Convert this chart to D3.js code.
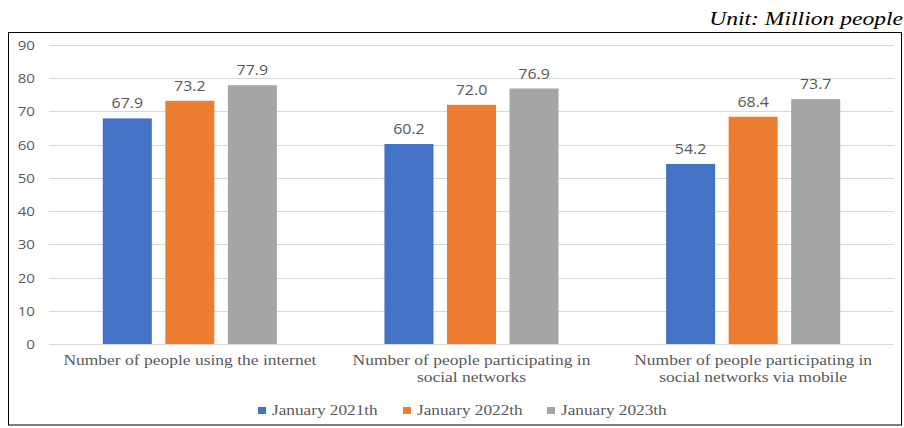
<!DOCTYPE html>
<html>
<head>
<meta charset="utf-8">
<script src="https://cdn.jsdelivr.net/npm/d3@7"></script>
<style>
  html, body { margin: 0; padding: 0; background: #fff; }
  svg { display: block; }
</style>
</head>
<body>
<script>
// Categories (each label split into its display lines)
const categories = [
  ["Number of people using the internet"],
  ["Number of people participating in", "social networks"],
  ["Number of people participating in", "social networks via mobile"]
];
const seriesNames = ["January 2021th", "January 2022th", "January 2023th"];
const seriesColors = ["#4472C4", "#ED7D31", "#A5A5A5"];
const values2021 = [67.9, 60.2, 54.2];
const values2022 = [73.2, 72.0, 68.4];
const values2023 = [77.9, 76.9, 73.7];
const yTicks = [0, 10, 20, 30, 40, 50, 60, 70, 80, 90];
const unitLabel = "Unit: Million people";

const W = 904, H = 428;
const svg = d3.select("body").append("svg").attr("width", W).attr("height", H);

const series = [values2021, values2022, values2023];

const SERIF = "'Liberation Serif', 'Times New Roman', serif";
const SANS = "'Open Sans', 'Noto Sans', sans-serif";

// Text is drawn slightly wide; place at (x, y) and stretch horizontally.
function wideText(sel, sx) {
  return sel.attr("transform", function () {
    const t = d3.select(this);
    return `translate(${t.attr("data-x")},${t.attr("data-y")}) scale(${sx},1)`;
  });
}

// Outer frame
svg.append("rect")
  .attr("x", 8.5).attr("y", 32.5)
  .attr("width", 893).attr("height", 392.5)
  .attr("fill", "none").attr("stroke", "#000").attr("stroke-width", 1);

// Unit note
svg.append("text")
  .attr("data-x", 903).attr("data-y", 25)
  .attr("text-anchor", "end")
  .attr("font-family", SERIF)
  .attr("font-style", "italic")
  .attr("font-size", 19.5)
  .attr("fill", "#000")
  .text(unitLabel)
  .call(wideText, 1.21);

const plot = { left: 49, right: 894, top: 45, bottom: 344 };

const x0 = d3.scaleBand()
  .domain(d3.range(categories.length))
  .range([plot.left, plot.right])
  .paddingInner(0).paddingOuter(0);

const x1 = d3.scaleBand()
  .domain(d3.range(series.length))
  .range([0, x0.bandwidth()])
  .paddingInner(0.216)
  .paddingOuter(0.86);

const y = d3.scaleLinear().domain([0, 90]).range([plot.bottom, plot.top]);

// Gridlines
svg.append("g")
  .selectAll("line")
  .data(yTicks)
  .join("line")
  .attr("x1", plot.left).attr("x2", plot.right)
  .attr("y1", d => Math.round(y(d)) + 0.5)
  .attr("y2", d => Math.round(y(d)) + 0.5)
  .attr("stroke", "#D9D9D9").attr("stroke-width", 1);

// Y axis labels
svg.append("g")
  .selectAll("text")
  .data(yTicks)
  .join("text")
  .attr("data-x", plot.left - 14)
  .attr("data-y", d => y(d) + 5)
  .attr("text-anchor", "end")
  .attr("font-family", SANS)
  .attr("font-size", 13.5)
  .attr("fill", "#595959")
  .text(d => d)
  .call(wideText, 1.12);

// Bars
const groups = svg.append("g")
  .selectAll("g")
  .data(categories.map((c, i) => i))
  .join("g")
  .attr("transform", i => `translate(${x0(i)},0)`);

groups.selectAll("rect")
  .data(i => series.map((s, k) => ({ k, v: s[i] })))
  .join("rect")
  .attr("x", d => x1(d.k))
  .attr("width", x1.bandwidth())
  .attr("y", d => y(d.v))
  .attr("height", d => y(0) - y(d.v))
  .attr("fill", d => seriesColors[d.k]);

groups.selectAll("text.val")
  .data(i => series.map((s, k) => ({ k, v: s[i] })))
  .join("text")
  .attr("class", "val")
  .attr("data-x", d => x1(d.k) + x1.bandwidth() / 2)
  .attr("data-y", d => y(d.v) - 10)
  .attr("text-anchor", "middle")
  .attr("font-family", SANS)
  .attr("font-size", 14)
  .attr("fill", "#595959")
  .text(d => d.v.toFixed(1))
  .call(wideText, 1.14);

// Baseline axis line
svg.append("line")
  .attr("x1", plot.left).attr("x2", plot.right)
  .attr("y1", Math.round(y(0)) + 0.5).attr("y2", Math.round(y(0)) + 0.5)
  .attr("stroke", "#D9D9D9").attr("stroke-width", 1);

// Category labels
const catLabels = svg.append("g")
  .selectAll("text")
  .data(categories)
  .join("text")
  .attr("data-x", (d, i) => x0(i) + x0.bandwidth() / 2)
  .attr("data-y", 365)
  .attr("text-anchor", "middle")
  .attr("font-family", SERIF)
  .attr("font-size", 14)
  .attr("fill", "#595959")
  .call(wideText, 1.25);
catLabels.selectAll("tspan")
  .data(d => d)
  .join("tspan")
  .attr("x", 0)
  .attr("dy", (d, j) => j === 0 ? 0 : 17)
  .text(d => d);

// Legend
const legendX = [258, 403, 547];
const legend = svg.append("g")
  .selectAll("g")
  .data(seriesNames)
  .join("g")
  .attr("transform", (d, i) => `translate(${legendX[i]},407)`);
legend.append("rect")
  .attr("width", 8).attr("height", 7)
  .attr("fill", (d, i) => seriesColors[i]);
legend.append("text")
  .attr("data-x", 14).attr("data-y", 8)
  .attr("font-family", SERIF)
  .attr("font-size", 14)
  .attr("fill", "#595959")
  .text(d => d)
  .call(wideText, 1.23);
</script>
</body>
</html>
